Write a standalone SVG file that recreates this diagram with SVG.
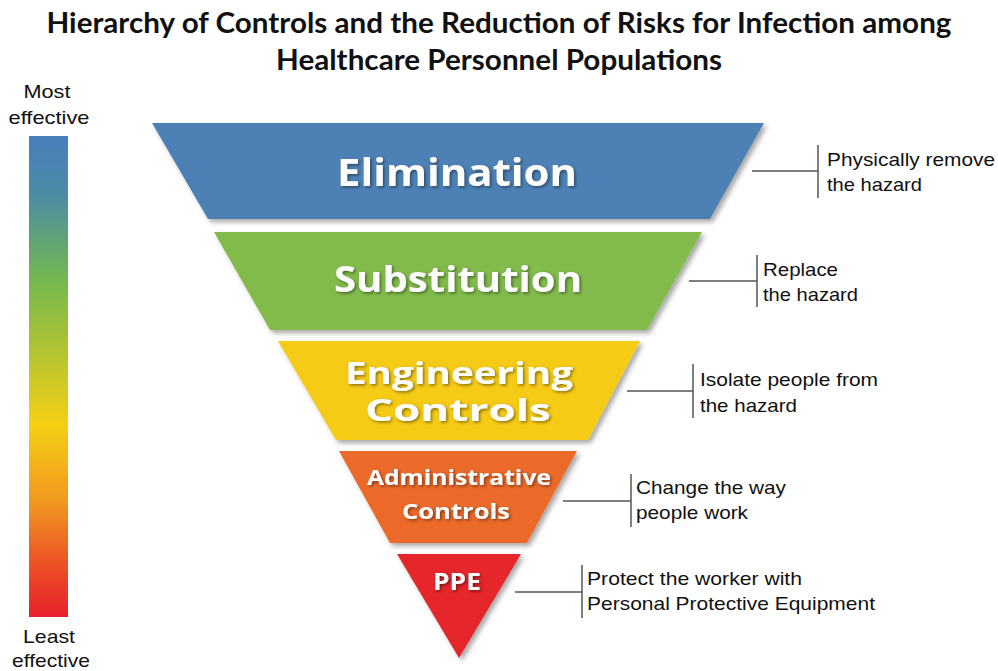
<svg xmlns="http://www.w3.org/2000/svg" width="998" height="671" viewBox="0 0 998 671">
  <defs>
    <linearGradient id="bar" x1="0" y1="0" x2="0" y2="1">
      <stop offset="0" stop-color="#4a7fbd"/>
      <stop offset="0.12" stop-color="#4c8aa6"/>
      <stop offset="0.3" stop-color="#74b84e"/>
      <stop offset="0.45" stop-color="#b3c431"/>
      <stop offset="0.6" stop-color="#f5cf14"/>
      <stop offset="0.76" stop-color="#f1981f"/>
      <stop offset="0.9" stop-color="#ec4c27"/>
      <stop offset="1" stop-color="#e7202b"/>
    </linearGradient>
    <filter id="shapeShadow" x="-10%" y="-10%" width="125%" height="130%">
      <feDropShadow dx="3" dy="3" stdDeviation="2.5" flood-color="#000" flood-opacity="0.35"/>
    </filter>
    <filter id="textShadow" x="-10%" y="-20%" width="125%" height="150%">
      <feDropShadow dx="1.5" dy="1.5" stdDeviation="1.5" flood-color="#000" flood-opacity="0.45"/>
    </filter>
  </defs>
  <style>
    .title { font-family: Lato, "Liberation Sans", sans-serif; font-weight: bold; font-size: 28px; fill: #111; text-anchor: middle; }
    .scale { font-family: "Liberation Sans", Arial, sans-serif; font-size: 19px; fill: #111; text-anchor: middle; }
    .lbl { font-family: "Liberation Sans", Arial, sans-serif; font-size: 19px; fill: #111; }
    .tier { font-family: "Open Sans", "DejaVu Sans", sans-serif; font-weight: bold; fill: #fdfdfd; text-anchor: middle; filter: url(#textShadow); }
    .shape { filter: url(#shapeShadow); }
    .lead { stroke: #555; stroke-width: 1.5; fill: none; }
  </style>
  <rect width="998" height="671" fill="#ffffff"/>

  <g id="title">
    <text class="title" x="499" y="33" textLength="905" lengthAdjust="spacingAndGlyphs">Hierarchy of Controls and the Reduction of Risks for Infection among</text>
    <text class="title" x="499" y="70" textLength="446" lengthAdjust="spacingAndGlyphs">Healthcare Personnel Populations</text>
  </g>

  <g id="effectiveness-scale">
    <text class="scale" x="47" y="98" textLength="47" lengthAdjust="spacingAndGlyphs">Most</text>
    <text class="scale" x="49" y="124" textLength="81" lengthAdjust="spacingAndGlyphs">effective</text>
    <rect x="29" y="136" width="39" height="481" fill="url(#bar)"/>
    <text class="scale" x="49" y="643" textLength="52" lengthAdjust="spacingAndGlyphs">Least</text>
    <text class="scale" x="51" y="667" textLength="78" lengthAdjust="spacingAndGlyphs">effective</text>
  </g>

  <g id="elimination">
    <polygon class="shape" points="152,123 764,123 710,219 208,219" fill="#4e81b5"/>
    <text class="tier" x="457" y="186" font-size="38" textLength="240" lengthAdjust="spacingAndGlyphs">Elimination</text>
  </g>

  <g id="substitution">
    <polygon class="shape" points="214,232 702,232 647,330 270,330" fill="#82bb4b"/>
    <text class="tier" x="458" y="292" font-size="35" textLength="248" lengthAdjust="spacingAndGlyphs">Substitution</text>
  </g>

  <g id="engineering-controls">
    <polygon class="shape" points="278,341 640,341 588,440 336,440" fill="#f6cb12"/>
    <text class="tier" x="459" y="384" font-size="30" textLength="228" lengthAdjust="spacingAndGlyphs">Engineering</text>
    <text class="tier" x="458" y="421" font-size="30" textLength="186" lengthAdjust="spacingAndGlyphs">Controls</text>
  </g>

  <g id="administrative-controls">
    <polygon class="shape" points="339,451 577,451 527,543 390,543" fill="#eb6a2b"/>
    <text class="tier" x="459" y="485" font-size="22" textLength="184" lengthAdjust="spacingAndGlyphs">Administrative</text>
    <text class="tier" x="456" y="519" font-size="22" textLength="108" lengthAdjust="spacingAndGlyphs">Controls</text>
  </g>

  <g id="ppe">
    <polygon class="shape" points="397,554 521,554 459,658" fill="#e52629"/>
    <text class="tier" x="457" y="590" font-size="23" textLength="48" lengthAdjust="spacingAndGlyphs">PPE</text>
  </g>

  <g id="connectors">
    <path class="lead" d="M752,171 H818 M818,145 V198"/>
    <path class="lead" d="M689,281 H757 M757,255 V307"/>
    <path class="lead" d="M627,391 H693 M693,364 V418"/>
    <path class="lead" d="M563,501 H631 M631,474 V527"/>
    <path class="lead" d="M515,592 H582 M582,565 V618"/>
  </g>

  <g id="label-elimination">
    <text class="lbl" x="827" y="166" textLength="168" lengthAdjust="spacingAndGlyphs">Physically remove</text>
    <text class="lbl" x="827" y="191" textLength="95" lengthAdjust="spacingAndGlyphs">the hazard</text>
  </g>
  <g id="label-substitution">
    <text class="lbl" x="763" y="276" textLength="75" lengthAdjust="spacingAndGlyphs">Replace</text>
    <text class="lbl" x="763" y="301" textLength="95" lengthAdjust="spacingAndGlyphs">the hazard</text>
  </g>
  <g id="label-engineering">
    <text class="lbl" x="700" y="386" textLength="178" lengthAdjust="spacingAndGlyphs">Isolate people from</text>
    <text class="lbl" x="700" y="412" textLength="97" lengthAdjust="spacingAndGlyphs">the hazard</text>
  </g>
  <g id="label-administrative">
    <text class="lbl" x="636" y="494" textLength="150" lengthAdjust="spacingAndGlyphs">Change the way</text>
    <text class="lbl" x="636" y="519" textLength="112" lengthAdjust="spacingAndGlyphs">people work</text>
  </g>
  <g id="label-ppe">
    <text class="lbl" x="587" y="585" textLength="215" lengthAdjust="spacingAndGlyphs">Protect the worker with</text>
    <text class="lbl" x="587" y="610" textLength="288" lengthAdjust="spacingAndGlyphs">Personal Protective Equipment</text>
  </g>
</svg>
